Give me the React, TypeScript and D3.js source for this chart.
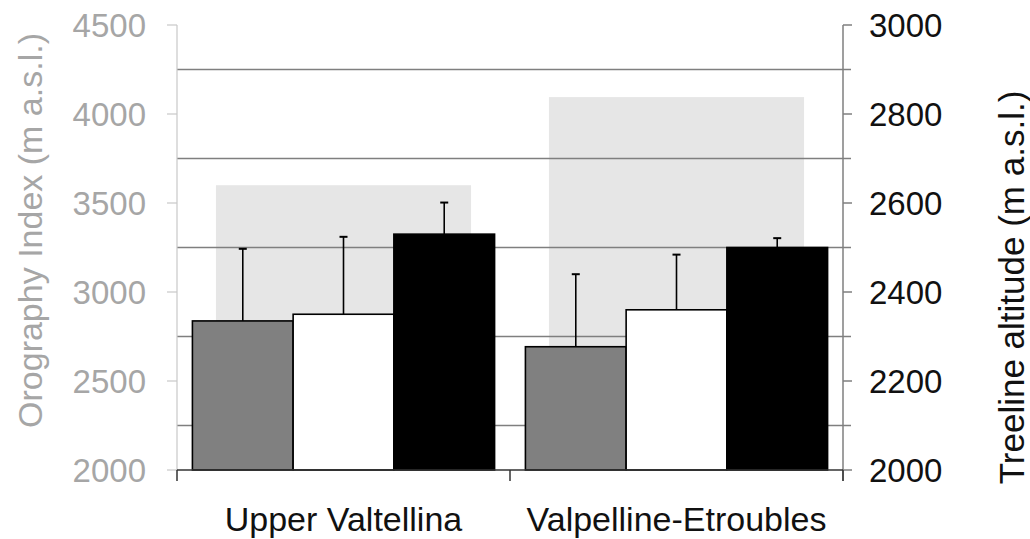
import React from "react";
import * as d3 from "d3";

// Study areas along the x axis
const regions = ["Upper Valtellina", "Valpelline-Etroubles"];

// Orography index per area (left axis, drawn as wide background columns)
const orographyIndex = [3600, 4095];

// Treeline altitude series (right axis): mean and upper error limit
const seriesKeys = ["first", "second", "third"];
const seriesFill = ["#808080", "#ffffff", "#000000"];
const treelineMean = [
  [2335, 2350, 2530],
  [2277, 2360, 2500],
];
const treelineUpper = [
  [2497, 2524, 2601],
  [2440, 2484, 2521],
];

const leftTicks = [2000, 2500, 3000, 3500, 4000, 4500];
const rightTicks = [2000, 2200, 2400, 2600, 2800, 3000];
const gridValues = [2100, 2300, 2500, 2700, 2900];

const W = 1030;
const H = 539;
const plot = { left: 177, right: 843, top: 25, bottom: 470 };
const FONT = "'Liberation Sans', Arial, sans-serif";

export default function App() {
  const x = d3
    .scaleBand<string>()
    .domain(regions)
    .range([plot.left, plot.right])
    .padding(0);
  const bw = x.bandwidth();
  const inner = d3
    .scaleBand<string>()
    .domain(seriesKeys)
    .range([0, bw])
    .paddingInner(0)
    .paddingOuter(0.153);

  const yLeft = d3.scaleLinear().domain([2000, 4500]).range([plot.bottom, plot.top]);
  const yRight = d3.scaleLinear().domain([2000, 3000]).range([plot.bottom, plot.top]);

  const bgFrac = 0.766;
  const capHalf = 4;

  return (
    <svg
      width={W}
      height={H}
      style={{ position: "absolute", left: 0, top: 0, background: "#fff" }}
      fontFamily={FONT}
    >
      {/* orography index columns */}
      {regions.map((r, i) => (
        <rect
          key={"bg" + r}
          x={(x(r) as number) + (bw * (1 - bgFrac)) / 2}
          y={yLeft(orographyIndex[i])}
          width={bw * bgFrac}
          height={plot.bottom - yLeft(orographyIndex[i])}
          fill="#e6e6e6"
        />
      ))}

      {/* gridlines */}
      {gridValues.map((v) => (
        <line
          key={"g" + v}
          x1={plot.left}
          x2={plot.right + 8}
          y1={yRight(v)}
          y2={yRight(v)}
          stroke="#7f7f7f"
          strokeWidth={1.5}
        />
      ))}

      {/* error bars */}
      {regions.map((r, i) =>
        seriesKeys.map((k, j) => {
          const cx = (x(r) as number) + (inner(k) as number) + inner.bandwidth() / 2;
          return (
            <g key={"e" + r + k} stroke="#000" strokeWidth={1.6}>
              <line x1={cx} x2={cx} y1={yRight(treelineMean[i][j])} y2={yRight(treelineUpper[i][j])} />
              <line
                x1={cx - capHalf}
                x2={cx + capHalf}
                y1={yRight(treelineUpper[i][j])}
                y2={yRight(treelineUpper[i][j])}
                strokeWidth={2}
              />
            </g>
          );
        })
      )}

      {/* treeline bars */}
      {regions.map((r, i) =>
        seriesKeys.map((k, j) => (
          <rect
            key={"b" + r + k}
            x={(x(r) as number) + (inner(k) as number)}
            y={yRight(treelineMean[i][j])}
            width={inner.bandwidth()}
            height={plot.bottom - yRight(treelineMean[i][j])}
            fill={seriesFill[j]}
            stroke="#000"
            strokeWidth={1.6}
          />
        ))
      )}

      {/* left axis */}
      <line x1={plot.left} x2={plot.left} y1={plot.top} y2={plot.bottom} stroke="#c8c8c8" strokeWidth={1.2} />
      {leftTicks.map((t) => (
        <g key={"lt" + t}>
          <line x1={plot.left - 10} x2={plot.left} y1={yLeft(t)} y2={yLeft(t)} stroke="#c8c8c8" strokeWidth={1.2} />
          <text
            x={plot.left - 31}
            y={yLeft(t)}
            dy="0.35em"
            textAnchor="end"
            fontSize={33}
            fill="#a6a6a6"
          >
            {t}
          </text>
        </g>
      ))}
      <text
        transform={`translate(42, ${(plot.top + plot.bottom) / 2 - 17}) rotate(-90)`}
        textAnchor="middle"
        fontSize={34}
        fill="#a6a6a6"
      >
        Orography Index (m a.s.l.)
      </text>

      {/* right axis */}
      <line x1={plot.right} x2={plot.right} y1={plot.top} y2={plot.bottom + 11} stroke="#7f7f7f" strokeWidth={1.5} />
      {rightTicks.map((t) => (
        <g key={"rt" + t}>
          <line x1={plot.right} x2={plot.right + 9} y1={yRight(t)} y2={yRight(t)} stroke="#7f7f7f" strokeWidth={1.5} />
          <text x={plot.right + 26} y={yRight(t)} dy="0.35em" fontSize={33} fill="#111">
            {t}
          </text>
        </g>
      ))}
      <text
        transform={`translate(1024, ${(plot.top + plot.bottom) / 2 + 40}) rotate(-90)`}
        textAnchor="middle"
        fontSize={35}
        fill="#111"
      >
        Treeline altitude (m a.s.l.)
      </text>

      {/* category axis */}
      <line x1={plot.left} x2={plot.right} y1={plot.bottom} y2={plot.bottom} stroke="#333" strokeWidth={1.5} />
      {[plot.left, (x(regions[1]) as number), plot.right].map((px, i) => (
        <line key={"ct" + i} x1={px} x2={px} y1={plot.bottom} y2={plot.bottom + 11} stroke="#333" strokeWidth={1.5} />
      ))}
      {regions.map((r) => (
        <text
          key={"cl" + r}
          x={(x(r) as number) + bw / 2}
          y={531}
          textAnchor="middle"
          fontSize={34}
          fill="#111"
        >
          {r}
        </text>
      ))}
    </svg>
  );
}
